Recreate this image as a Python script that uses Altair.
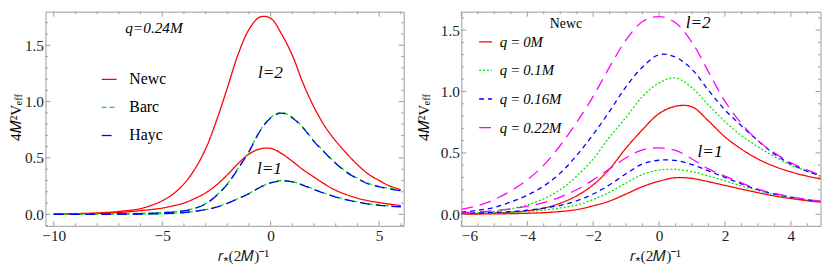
import altair as alt
import pandas as pd

FONT = "Liberation Serif"
FRAME = "#9a9a9a"
RED, GREEN, BLUE, MAGENTA = "#ff0000", "#00e600", "#0000ff", "#ff00ff"

# ---------------- left panel data (q = 0.24M) ----------------
LX = [-10, -9, -8, -7, -6, -5.5, -5, -4.5, -4, -3.5, -3, -2.5, -2, -1.5, -1, -0.5,
      0, 0.5, 1, 1.5, 2, 2.5, 3, 3.5, 4, 4.5, 5, 5.5, 6]
NEWC_L2 = [0.003, 0.006, 0.012, 0.025, 0.05, 0.08, 0.12, 0.18, 0.27, 0.4, 0.58, 0.83, 1.12,
           1.42, 1.64, 1.75, 1.74, 1.6, 1.41, 1.16, 0.95, 0.78, 0.65, 0.54, 0.44, 0.357,
           0.3, 0.25, 0.22]
NEWC_L1 = [0.002, 0.004, 0.008, 0.016, 0.032, 0.042, 0.055, 0.075, 0.1, 0.14, 0.19, 0.26,
           0.35, 0.45, 0.535, 0.58, 0.585, 0.54, 0.47, 0.395, 0.33, 0.267, 0.213, 0.174,
           0.143, 0.12, 0.104, 0.09, 0.077]
BARC_L2 = [0.0, 0.001, 0.002, 0.004, 0.008, 0.011, 0.015, 0.022, 0.033, 0.055, 0.095, 0.17,
           0.27, 0.41, 0.56, 0.74, 0.86, 0.905, 0.86, 0.77, 0.65, 0.55, 0.455, 0.377, 0.32,
           0.274, 0.248, 0.23, 0.215]
BARC_L1 = [0.0, 0.0, 0.001, 0.002, 0.003, 0.004, 0.006, 0.01, 0.016, 0.027, 0.042, 0.064,
           0.098, 0.14, 0.185, 0.24, 0.28, 0.3, 0.29, 0.26, 0.222, 0.187, 0.156, 0.13, 0.11,
           0.094, 0.083, 0.075, 0.07]
HAYC_L2 = [0.0, 0.0, 0.001, 0.003, 0.006, 0.009, 0.013, 0.02, 0.031, 0.052, 0.092, 0.165,
           0.265, 0.405, 0.555, 0.735, 0.855, 0.898, 0.855, 0.765, 0.645, 0.545, 0.45, 0.372,
           0.315, 0.269, 0.243, 0.224, 0.209]
HAYC_L1 = [0.0, 0.0, 0.0, 0.001, 0.002, 0.003, 0.005, 0.009, 0.015, 0.026, 0.041, 0.063,
           0.097, 0.139, 0.184, 0.238, 0.278, 0.297, 0.287, 0.257, 0.219, 0.184, 0.153, 0.127,
           0.107, 0.091, 0.08, 0.072, 0.067]
LEFT_SERIES = ["Newc", "Barc", "Hayc"]

# ---------------- right panel data (Newc) ----------------
RX = [-6, -5.5, -5, -4.5, -4, -3.5, -3, -2.5, -2, -1.5, -1, -0.5, 0, 0.5, 1, 1.5, 2, 2.5,
      3, 3.5, 4, 4.5, 5]
Q0_L2 = [0.003, 0.006, 0.01, 0.017, 0.028, 0.05, 0.09, 0.15, 0.24, 0.37, 0.54, 0.69, 0.82,
         0.88, 0.875, 0.76, 0.63, 0.53, 0.45, 0.39, 0.345, 0.31, 0.283]
Q0_L1 = [0.001, 0.002, 0.003, 0.005, 0.008, 0.013, 0.022, 0.038, 0.068, 0.108, 0.165, 0.225,
         0.27, 0.298, 0.292, 0.265, 0.235, 0.205, 0.176, 0.149, 0.128, 0.11, 0.095]
Q01_L2 = [0.008, 0.013, 0.022, 0.044, 0.077, 0.125, 0.2, 0.31, 0.45, 0.63, 0.79, 0.96, 1.07,
          1.11, 1.03, 0.89, 0.755, 0.64, 0.55, 0.47, 0.4, 0.35, 0.3]
Q01_L1 = [0.004, 0.006, 0.011, 0.015, 0.022, 0.033, 0.052, 0.075, 0.12, 0.18, 0.255, 0.325,
          0.36, 0.365, 0.347, 0.312, 0.273, 0.23, 0.193, 0.158, 0.135, 0.116, 0.1]
Q016_L2 = [0.018, 0.032, 0.055, 0.1, 0.155, 0.23, 0.335, 0.48, 0.65, 0.84, 1.04, 1.2, 1.3,
           1.28, 1.18, 1.01, 0.85, 0.72, 0.6, 0.49, 0.41, 0.35, 0.305]
Q016_L1 = [0.008, 0.011, 0.015, 0.022, 0.033, 0.05, 0.072, 0.11, 0.165, 0.24, 0.33, 0.41,
           0.44, 0.438, 0.405, 0.353, 0.3, 0.248, 0.2, 0.165, 0.14, 0.117, 0.102]
Q022_L2 = [0.04, 0.07, 0.12, 0.19, 0.28, 0.4, 0.56, 0.75, 0.96, 1.2, 1.42, 1.57, 1.61, 1.56,
           1.4, 1.16, 0.92, 0.74, 0.6, 0.5, 0.42, 0.36, 0.31]
Q022_L1 = [0.012, 0.02, 0.03, 0.045, 0.065, 0.095, 0.14, 0.2, 0.28, 0.37, 0.46, 0.525, 0.54,
           0.52, 0.45, 0.37, 0.31, 0.255, 0.205, 0.17, 0.142, 0.12, 0.103]
RIGHT_SERIES = ["q\u2009=\u20090M", "q\u2009=\u20090.1M", "q\u2009=\u20090.16M", "q\u2009=\u20090.22M"]

# ---------------- tick values ----------------
LX_MAJOR = [-10, -5, 0, 5]
LX_MINOR = [-9, -8, -7, -6, -4, -3, -2, -1, 1, 2, 3, 4, 6]
RX_MAJOR = [-6, -4, -2, 0, 2, 4]
RX_MINOR = [-5.5, -5, -4.5, -3.5, -3, -2.5, -1.5, -1, -0.5, 0.5, 1, 1.5, 2.5, 3, 3.5, 4.5]
Y_MAJOR = [0, 0.5, 1.0, 1.5]
Y_MINOR = [-0.1, 0.1, 0.2, 0.3, 0.4, 0.6, 0.7, 0.8, 0.9, 1.1, 1.2, 1.3, 1.4, 1.6, 1.7]


def long_df(xs, curves):
    rows = []
    for series, l, ys in curves:
        for x, y in zip(xs, ys):
            rows.append({"x": x, "y": y, "series": series, "curve": f"{series}-{l}"})
    return pd.DataFrame(rows)


left_df = long_df(LX, [("Newc", 2, NEWC_L2), ("Newc", 1, NEWC_L1),
                       ("Barc", 2, BARC_L2), ("Barc", 1, BARC_L1),
                       ("Hayc", 2, HAYC_L2), ("Hayc", 1, HAYC_L1)])
right_df = long_df(RX, [(RIGHT_SERIES[0], 2, Q0_L2), (RIGHT_SERIES[0], 1, Q0_L1),
                        (RIGHT_SERIES[1], 2, Q01_L2), (RIGHT_SERIES[1], 1, Q01_L1),
                        (RIGHT_SERIES[2], 2, Q016_L2), (RIGHT_SERIES[2], 1, Q016_L1),
                        (RIGHT_SERIES[3], 2, Q022_L2), (RIGHT_SERIES[3], 1, Q022_L1)])

ONE = pd.DataFrame({"k": [0]})
W_L, W_R, H = 363, 364, 217
TICK_FS = 15.5


def text(t, x, y, size, style="normal", angle=0, align="center"):
    return alt.Chart(ONE).mark_text(
        text=t, font=FONT, fontSize=size, fontStyle=style, angle=angle,
        align=align, baseline="middle", color="black"
    ).encode(x=alt.value(x), y=alt.value(y))


def axes(xvals, title_x):
    xa = alt.Axis(values=xvals, format="d", ticks=False, tickSize=0, domain=False, grid=False,
                  labelPadding=3, labelFont=FONT, labelFontSize=TICK_FS, labelColor="#222",
                  title="𝑟⁎(2𝑀)⁻¹", titleFont=FONT, titleFontSize=15.5, titleFontWeight="normal",
                  titleColor="#222", titleX=title_x, titleY=30, titleBaseline="middle")
    ya = alt.Axis(values=Y_MAJOR, format=".1f", ticks=False, tickSize=0, domain=False, grid=False,
                  labelPadding=2, labelFont=FONT, labelFontSize=TICK_FS, labelColor="#222",
                  title=None)
    return xa, ya


def ticks(xscale, yscale, xa, ya, xmaj, xmin, W):
    layers = []
    for vals, ln in ((xmaj, 5), (xmin, 2.5)):
        d = pd.DataFrame({"x": vals})
        base = alt.Chart(d).mark_rule(color=FRAME, strokeWidth=1)
        layers.append(base.encode(x=alt.X("x:Q", scale=xscale, axis=xa),
                                  y=alt.value(H), y2=alt.value(H - ln)))
        layers.append(base.encode(x=alt.X("x:Q", scale=xscale, axis=xa),
                                  y=alt.value(0), y2=alt.value(ln)))
    for vals, ln in ((Y_MAJOR, 5), (Y_MINOR, 2.5)):
        d = pd.DataFrame({"y": vals})
        base = alt.Chart(d).mark_rule(color=FRAME, strokeWidth=1)
        layers.append(base.encode(y=alt.Y("y:Q", scale=yscale, axis=ya),
                                  x=alt.value(0), x2=alt.value(ln)))
        layers.append(base.encode(y=alt.Y("y:Q", scale=yscale, axis=ya),
                                  x=alt.value(W), x2=alt.value(W - ln)))
    return layers


# ---------- left panel ----------
lxs = alt.Scale(domain=[-10.38, 6.13], nice=False, zero=False)
lys = alt.Scale(domain=[-0.102, 1.798], nice=False, zero=False)
lxa, lya = axes(LX_MAJOR, 200)
left_leg = alt.Legend(orient="none", legendX=56, legendY=60, title=None, symbolType="stroke",
                      symbolSize=225, symbolStrokeWidth=1.3, labelFont=FONT, labelFontSize=16,
                      labelColor="black", labelOffset=12, rowPadding=11.5, padding=0)
left_lines = alt.Chart(left_df).mark_line(strokeWidth=1.3, clip=True, interpolate="catmull-rom").encode(
    x=alt.X("x:Q", scale=lxs, axis=lxa),
    y=alt.Y("y:Q", scale=lys, axis=lya),
    color=alt.Color("series:N", sort=LEFT_SERIES,
                    scale=alt.Scale(domain=LEFT_SERIES, range=[RED, GREEN, BLUE]), legend=left_leg),
    strokeDash=alt.StrokeDash("series:N", sort=LEFT_SERIES,
                              scale=alt.Scale(domain=LEFT_SERIES, range=[[1, 0], [5, 3], [10, 6]]),
                              legend=left_leg),
    detail="curve:N",
)
left = alt.layer(
    left_lines, *ticks(lxs, lys, lxa, lya, LX_MAJOR, LX_MINOR, W_L),
    text("q=0.24M", 110, 17, 15.5, "italic"),
    text("l=2", 228, 62, 17.5, "italic"),
    text("l=1", 227, 160, 17.5, "italic"),
    text("4𝑀²V", -30, 131, 15.5, angle=270, align="left"),
    text("eff", -26.5, 95, 10.5, angle=270, align="left"),
).properties(width=W_L, height=H)

# ---------- right panel ----------
rxs = alt.Scale(domain=[-6.0, 4.9], nice=False, zero=False)
rys = alt.Scale(domain=[-0.094, 1.65], nice=False, zero=False)
rxa, rya = axes(RX_MAJOR, 196)
right_leg = alt.Legend(orient="none", legendX=17, legendY=23, title=None, symbolType="stroke",
                       symbolSize=169, symbolStrokeWidth=1.3, labelFont=FONT, labelFontSize=15,
                       labelFontStyle="italic", labelColor="black", labelOffset=7, rowPadding=13,
                       padding=0)
right_lines = alt.Chart(right_df).mark_line(strokeWidth=1.3, clip=True, interpolate="catmull-rom").encode(
    x=alt.X("x:Q", scale=rxs, axis=rxa),
    y=alt.Y("y:Q", scale=rys, axis=rya),
    color=alt.Color("series:N", sort=RIGHT_SERIES,
                    scale=alt.Scale(domain=RIGHT_SERIES, range=[RED, GREEN, BLUE, MAGENTA]),
                    legend=right_leg),
    strokeDash=alt.StrokeDash("series:N", sort=RIGHT_SERIES,
                              scale=alt.Scale(domain=RIGHT_SERIES,
                                              range=[[1, 0], [2, 2], [5, 4], [12, 7]]),
                              legend=right_leg),
    detail="curve:N",
)
right = alt.layer(
    right_lines, *ticks(rxs, rys, rxa, rya, RX_MAJOR, RX_MINOR, W_R),
    text("Newc", 106, 13, 14),
    text("l=2", 240, 12, 17.5, "italic"),
    text("l=1", 252, 142, 17.5, "italic"),
    text("4𝑀²V", -38, 131, 15.5, angle=270, align="left"),
    text("eff", -34.5, 95, 10.5, angle=270, align="left"),
).properties(width=W_R, height=H)

chart = alt.hconcat(left, right, spacing=11.5).resolve_scale(
    color="independent", strokeDash="independent", x="independent", y="independent"
).resolve_legend(color="independent", strokeDash="independent").properties(
    padding={"left": 0, "top": -6, "right": 0, "bottom": 0}
).configure_view(stroke=FRAME, strokeWidth=1)

chart.save("out.html", embed_options={"renderer": "svg", "actions": False})
